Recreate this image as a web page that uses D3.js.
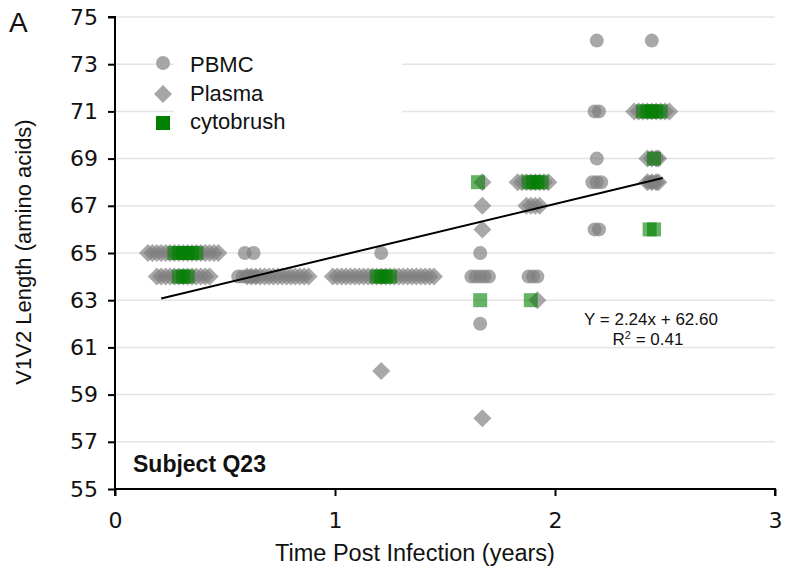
<!DOCTYPE html>
<html><head><meta charset="utf-8">
<script src="https://cdn.jsdelivr.net/npm/d3@7"></script>
<style>body{margin:0;background:#fff}svg{display:block}</style>
</head><body>
<svg id="c" width="785" height="573"></svg>
<script>
// ---- data (time in years, V1V2 length in amino acids) ----
const pbmcTime = [0.59,0.63, 0.56,0.58,0.60,0.62,0.64, 1.21, 1.66, 1.62,1.64,1.66,1.68,1.70, 1.66, 1.88,1.90,1.92,
  2.17,2.19,2.21, 2.18,2.20, 2.18,2.20, 2.19, 2.19,2.44, 2.43,2.45, 2.44,2.46];
const pbmcLen  = [65,65, 64,64,64,64,64, 65, 65, 64,64,64,64,64, 62, 64,64,64,
  68,68,68, 66,66, 71,71, 69, 74,74, 68,68, 69,69];

const plasmaTime = [0.15,0.17,0.19,0.21,0.23,0.25,0.27,0.29,0.31,0.33,0.35,0.37,0.39,0.41,0.43,0.45,0.47,
  0.19,0.21,0.23,0.25,0.27,0.29,0.31,0.33,0.35,0.37,0.39,0.41,0.43,
  0.60,0.62,0.64,0.66,0.68,0.70,0.72,0.74,0.76,0.78,0.80,0.82,0.84,0.86,0.88,
  0.99,1.01,1.03,1.05,1.07,1.09,1.11,1.13,1.15,1.17,1.19,1.21,1.23,1.25,1.27,1.29,1.31,1.33,1.35,1.37,1.39,1.41,1.43,1.45,
  1.21, 1.67,1.67,1.67,1.67,
  1.83,1.85,1.87,1.89,1.91,1.93,1.95,1.97,
  1.87,1.89,1.91,1.93, 1.92,
  2.42,2.44,2.46,2.47, 2.42,2.44,2.46,2.47,
  2.36,2.38,2.40,2.42,2.44,2.46,2.48,2.50,2.52];
const plasmaLen = [65,65,65,65,65,65,65,65,65,65,65,65,65,65,65,65,65,
  64,64,64,64,64,64,64,64,64,64,64,64,64,
  64,64,64,64,64,64,64,64,64,64,64,64,64,64,64,
  64,64,64,64,64,64,64,64,64,64,64,64,64,64,64,64,64,64,64,64,64,64,64,64,
  60, 68,67,66,58,
  68,68,68,68,68,68,68,68,
  67,67,67,67, 63,
  68,68,68,68, 69,69,69,69,
  71,71,71,71,71,71,71,71,71];

const cytoTime = [0.27,0.29,0.31,0.33,0.35,0.37, 0.29,0.31,0.33, 1.19,1.21,1.23,1.25,
  1.65, 1.66, 1.89, 1.88,1.90,1.92,1.94, 2.43,2.45, 2.45, 2.40,2.42,2.44,2.46,2.48];
const cytoLen  = [65,65,65,65,65,65, 64,64,64, 64,64,64,64,
  68, 63, 63, 68,68,68,68, 66,66, 69, 71,71,71,71,71];

const xTicks = [0,1,2,3];
const yTicks = [55,57,59,61,63,65,67,69,71,73,75];
const fitSlope = 2.24, fitIntercept = 62.60, fitStart = 0.21, fitEnd = 2.49;
const legendLabels = ["PBMC","Plasma","cytobrush"];

// ---- drawing ----
const svg = d3.select("#c");
const x = d3.scaleLinear().domain([0,3]).range([115,775]);
const y = d3.scaleLinear().domain([55,75]).range([489,17]);
const sans = "Liberation Sans, Arial, sans-serif";

// gridlines
svg.append("g").selectAll("line").data(yTicks.filter(v=>v>55)).join("line")
  .attr("x1",x(0)).attr("x2",x(3)).attr("y1",d=>y(d)).attr("y2",d=>y(d))
  .attr("stroke","#e4e4e4").attr("stroke-width",1.5);

// legend background
svg.append("rect").attr("x",174).attr("y",44).attr("width",228).attr("height",96).attr("fill","#fff");

const grayFill = "#7f7f7f", op = 0.68;
const plasma = plasmaTime.map((t,i)=>({t, v:plasmaLen[i]}));
const pbmc = pbmcTime.map((t,i)=>({t, v:pbmcLen[i]}));
const cyto = cytoTime.map((t,i)=>({t, v:cytoLen[i]}));

svg.append("g").selectAll("circle").data(pbmc).join("circle")
  .attr("cx",d=>x(d.t)).attr("cy",d=>y(d.v)).attr("r",7)
  .attr("fill",grayFill).attr("fill-opacity",op);

const dsym = d3.symbol().type(d3.symbolSquare).size(162);
svg.append("g").selectAll("path").data(plasma).join("path")
  .attr("d",dsym)
  .attr("transform",d=>`translate(${x(d.t)},${y(d.v)}) rotate(45)`)
  .attr("fill",grayFill).attr("fill-opacity",op);

svg.append("g").selectAll("rect").data(cyto).join("rect")
  .attr("x",d=>x(d.t)-7).attr("y",d=>y(d.v)-7).attr("width",14).attr("height",14)
  .attr("fill","#008000").attr("fill-opacity",0.6);

// fit line
svg.append("line")
  .attr("x1",x(fitStart)).attr("y1",y(fitSlope*fitStart+fitIntercept))
  .attr("x2",x(fitEnd)).attr("y2",y(fitSlope*fitEnd+fitIntercept))
  .attr("stroke","#000").attr("stroke-width",2);

// axes
const yAxis = svg.append("g").attr("transform",`translate(${x(0)},0)`)
  .call(d3.axisLeft(y).tickValues(yTicks).tickSize(7).tickPadding(10));
const xAxis = svg.append("g").attr("transform",`translate(0,${y(55)})`)
  .call(d3.axisBottom(x).tickValues(xTicks).tickSize(7).tickPadding(16).tickFormat(d3.format("d")));
[yAxis,xAxis].forEach(g=>{
  g.select(".domain").attr("stroke","#000").attr("stroke-width",2);
  g.selectAll(".tick line").attr("stroke","#000").attr("stroke-width",2);
  g.selectAll(".tick text").attr("fill","#111").style("font-family","DejaVu Sans, Verdana, sans-serif").style("font-size","22px");
});
yAxis.select(".domain").attr("d",`M-7,${y(75)}H0V${y(55)}`);
xAxis.select(".domain").attr("d",`M${x(0)},7V0H${x(3)}V7`);

// axis titles
svg.append("text").attr("transform","translate(31,252) rotate(-90)").attr("text-anchor","middle")
  .style("font-family",sans).style("font-size","22px").attr("fill","#111")
  .text("V1V2 Length (amino acids)");
svg.append("text").attr("x",415).attr("y",561).attr("text-anchor","middle")
  .style("font-family",sans).style("font-size","23.5px").attr("fill","#111")
  .text("Time Post Infection (years)");

// panel letter
svg.append("text").attr("x",9).attr("y",32).style("font-family",sans)
  .style("font-size","28px").attr("fill","#111").text("A");

// subject label
svg.append("text").attr("x",133).attr("y",472).style("font-family",sans)
  .style("font-size","23px").style("font-weight","bold").attr("fill","#111").text("Subject Q23");

// equation
svg.append("text").attr("x",651).attr("y",325).attr("text-anchor","middle")
  .style("font-family",sans).style("font-size","17px").attr("fill","#111")
  .text("Y = 2.24x  + 62.60");
const r2 = svg.append("text").attr("x",648).attr("y",345).attr("text-anchor","middle")
  .style("font-family",sans).style("font-size","17px").attr("fill","#111");
r2.append("tspan").text("R");
r2.append("tspan").attr("dy",-6).style("font-size","11px").text("2");
r2.append("tspan").attr("dy",6).text(" = 0.41");

// legend
const lg = svg.append("g");
const ly = [63,94,123];
const lb = [72,101,129];
lg.append("circle").attr("cx",163).attr("cy",ly[0]).attr("r",7).attr("fill","#a6a6a6");
lg.append("path").attr("d",dsym).attr("transform",`translate(163,${ly[1]}) rotate(45)`).attr("fill","#a6a6a6");
lg.append("rect").attr("x",156).attr("y",ly[2]-7).attr("width",14).attr("height",14).attr("fill","#008000");
lg.selectAll("text").data(legendLabels).join("text")
  .attr("x",190).attr("y",(d,i)=>lb[i])
  .style("font-family",sans).style("font-size","22px").attr("fill","#111")
  .text(d=>d);
</script>
</body></html>
